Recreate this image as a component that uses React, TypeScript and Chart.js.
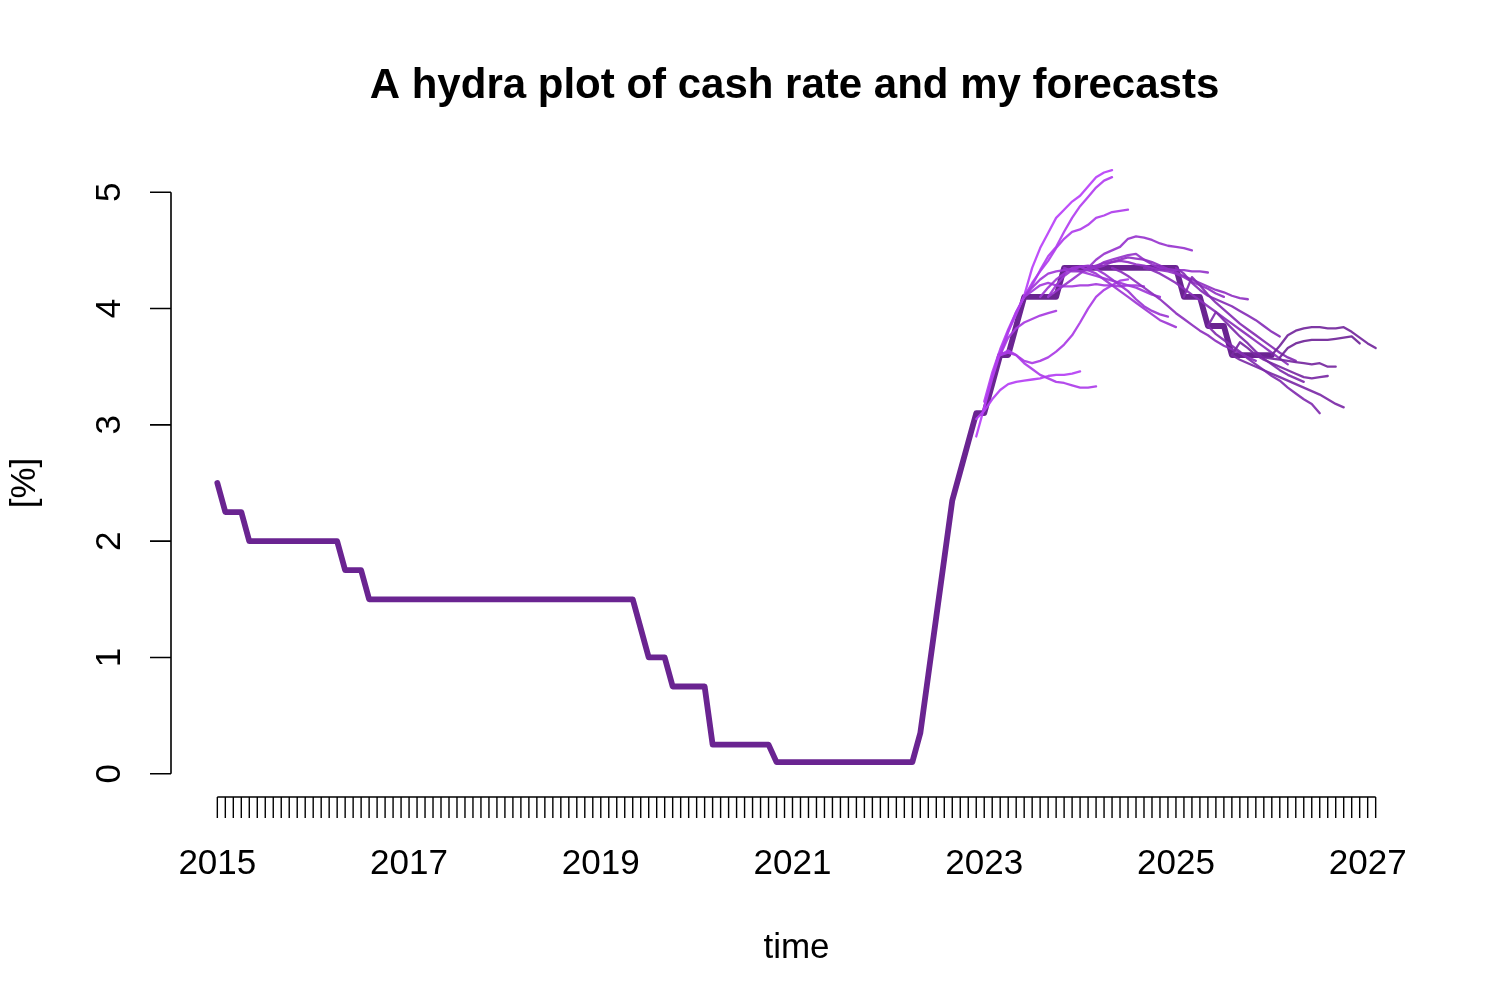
import React, { useEffect, useRef } from "react";
import { Chart, registerables } from "chart.js";

Chart.register(...registerables);

// ---------------- data ----------------
const chartTitle = "A hydra plot of cash rate and my forecasts";
const xAxisTitle = "time";
const yAxisTitle = "[%]";

const xTickYears = [2015, 2017, 2019, 2021, 2023, 2025, 2027];
const yTickValues = [0, 1, 2, 3, 4, 5];
const minorTickFirst = "2015-01";
const minorTickLast = "2027-02";

// monthly cash rate from Jan 2015
const cashRateStart = "2015-01";
const cashRate = [
  2.5, 2.25, 2.25, 2.25, 2.0, 2.0, 2.0, 2.0, 2.0, 2.0, 2.0, 2.0,
  2.0, 2.0, 2.0, 2.0, 1.75, 1.75, 1.75, 1.5, 1.5, 1.5, 1.5, 1.5,
  1.5, 1.5, 1.5, 1.5, 1.5, 1.5, 1.5, 1.5, 1.5, 1.5, 1.5, 1.5,
  1.5, 1.5, 1.5, 1.5, 1.5, 1.5, 1.5, 1.5, 1.5, 1.5, 1.5, 1.5,
  1.5, 1.5, 1.5, 1.5, 1.5, 1.25, 1.0, 1.0, 1.0, 0.75, 0.75, 0.75,
  0.75, 0.75, 0.25, 0.25, 0.25, 0.25, 0.25, 0.25, 0.25, 0.25, 0.1, 0.1,
  0.1, 0.1, 0.1, 0.1, 0.1, 0.1, 0.1, 0.1, 0.1, 0.1, 0.1, 0.1,
  0.1, 0.1, 0.1, 0.1, 0.35, 0.85, 1.35, 1.85, 2.35, 2.6, 2.85, 3.1,
  3.1, 3.35, 3.6, 3.6, 3.85, 4.1, 4.1, 4.1, 4.1, 4.1, 4.35, 4.35,
  4.35, 4.35, 4.35, 4.35, 4.35, 4.35, 4.35, 4.35, 4.35, 4.35, 4.35, 4.35,
  4.35, 4.1, 4.1, 4.1, 3.85, 3.85, 3.85, 3.6, 3.6, 3.6, 3.6, 3.6,
  3.6,
];

// forecasts: start month and monthly path
const fc01Start = "2022-12";
const fc01 = [2.9, 3.15, 3.4, 3.62, 3.8, 3.95, 4.11, 4.35, 4.52, 4.65, 4.78, 4.85, 4.92, 4.97, 5.05, 5.13, 5.17, 5.19];
const fc02Start = "2022-12";
const fc02 = [3.05, 3.12, 3.22, 3.3, 3.35, 3.37, 3.38, 3.39, 3.4, 3.42, 3.43, 3.43, 3.44, 3.46];
const fc03Start = "2023-01";
const fc03 = [3.2, 3.45, 3.65, 3.82, 3.97, 4.1, 4.2, 4.33, 4.45, 4.53, 4.66, 4.78, 4.88, 4.96, 5.04, 5.1, 5.13];
const fc04Start = "2023-03";
const fc04 = [3.6, 3.8, 3.97, 4.1, 4.22, 4.32, 4.41, 4.52, 4.6, 4.66, 4.68, 4.72, 4.78, 4.8, 4.83, 4.84, 4.85];
const fc05Start = "2023-03";
const fc05 = [3.6, 3.64, 3.6, 3.53, 3.48, 3.43, 3.4, 3.37, 3.36, 3.34, 3.32, 3.32, 3.33];
const fc06Start = "2023-03";
const fc06 = [3.6, 3.62, 3.6, 3.55, 3.53, 3.55, 3.58, 3.63, 3.69, 3.77, 3.88, 4.0, 4.1, 4.16, 4.2, 4.24, 4.25];
const fc07Start = "2023-03";
const fc07 = [3.6, 3.75, 3.83, 3.88, 3.91, 3.94, 3.96, 3.98];
const fc08Start = "2023-06";
const fc08 = [4.1, 4.15, 4.2, 4.22, 4.2, 4.19, 4.19, 4.2, 4.2, 4.21, 4.2, 4.2, 4.19, 4.2, 4.2, 4.19];
const fc09Start = "2023-06";
const fc09 = [4.1, 4.18, 4.25, 4.3, 4.32, 4.33, 4.34, 4.32, 4.3, 4.28, 4.26, 4.24, 4.22, 4.2, 4.18, 4.15, 4.12, 4.1];
const fc10Start = "2023-08";
const fc10 = [4.1, 4.18, 4.25, 4.3, 4.35, 4.36, 4.33, 4.3, 4.25, 4.2, 4.15, 4.1, 4.05, 4.0, 3.95, 3.9, 3.87, 3.84];
const fc11Start = "2023-09";
const fc11 = [4.1, 4.2, 4.28, 4.33, 4.36, 4.37, 4.34, 4.3, 4.25, 4.2, 4.15, 4.08, 4.02, 3.98, 3.95, 3.93];
const fc12Start = "2023-09";
const fc12 = [4.1, 4.15, 4.2, 4.25, 4.3, 4.35, 4.42, 4.47, 4.5, 4.53, 4.6, 4.62, 4.61, 4.59, 4.56, 4.54, 4.53, 4.52, 4.5];
const fc13Start = "2023-11";
const fc13 = [4.35, 4.32, 4.32, 4.33, 4.36, 4.4, 4.42, 4.44, 4.46, 4.47, 4.42, 4.38, 4.35, 4.34, 4.33, 4.33, 4.32, 4.32, 4.31];
const fc14Start = "2024-02";
const fc14 = [4.35, 4.37, 4.39, 4.4, 4.41, 4.4, 4.38, 4.37, 4.35, 4.33, 4.32, 4.3, 4.27, 4.23, 4.2, 4.17, 4.13, 4.1];
const fc15Start = "2024-03";
const fc15 = [4.35, 4.37, 4.4, 4.42, 4.44, 4.43, 4.42, 4.4, 4.37, 4.34, 4.31, 4.28, 4.25, 4.22, 4.19, 4.16, 4.14, 4.11, 4.09, 4.08];
const fc16Start = "2024-05";
const fc16 = [4.35, 4.32, 4.28, 4.23, 4.18, 4.13, 4.08, 4.02, 3.96, 3.91, 3.86, 3.81, 3.77, 3.72, 3.68, 3.65, 3.62, 3.58, 3.55];
const fc17Start = "2024-09";
const fc17 = [4.35, 4.33, 4.3, 4.26, 4.22, 4.17, 4.12, 4.07, 4.02, 3.97, 3.92, 3.87, 3.82, 3.77, 3.72, 3.67, 3.62, 3.57, 3.52];
const fc18Start = "2025-01";
const fc18 = [4.35, 4.3, 4.22, 4.16, 4.11, 4.08, 4.05, 4.02, 3.98, 3.94, 3.9, 3.85, 3.8, 3.76];
const fc19Start = "2025-02";
const fc19 = [4.1, 4.27, 4.2, 4.12, 4.05, 3.99, 3.93, 3.87, 3.82, 3.77, 3.72, 3.67, 3.62, 3.58, 3.55];
const fc20Start = "2025-05";
const fc20 = [3.85, 3.78, 3.73, 3.68, 3.63, 3.57, 3.52, 3.47, 3.42, 3.38, 3.32, 3.27, 3.22, 3.18, 3.1];
const fc21Start = "2025-05";
const fc21 = [3.85, 3.97, 3.9, 3.83, 3.76, 3.7, 3.63, 3.57, 3.52, 3.47, 3.43, 3.4, 3.37];
const fc22Start = "2025-08";
const fc22 = [3.6, 3.56, 3.53, 3.5, 3.47, 3.44, 3.41, 3.38, 3.35, 3.32, 3.29, 3.26, 3.22, 3.18, 3.15];
const fc23Start = "2025-08";
const fc23 = [3.6, 3.71, 3.66, 3.6, 3.56, 3.53, 3.5, 3.47, 3.44, 3.41, 3.4, 3.41, 3.42];
const fc24Start = "2025-11";
const fc24 = [3.6, 3.58, 3.57, 3.56, 3.55, 3.54, 3.53, 3.52, 3.53, 3.5, 3.5];
const fc25Start = "2026-01";
const fc25 = [3.6, 3.68, 3.77, 3.81, 3.83, 3.84, 3.84, 3.83, 3.83, 3.84, 3.8, 3.75, 3.7, 3.66];
const fc26Start = "2026-02";
const fc26 = [3.58, 3.66, 3.7, 3.72, 3.73, 3.73, 3.73, 3.74, 3.75, 3.76, 3.7];

const forecastStarts = [
  fc01Start, fc02Start, fc03Start, fc04Start, fc05Start, fc06Start, fc07Start, fc08Start, fc09Start,
  fc10Start, fc11Start, fc12Start, fc13Start, fc14Start, fc15Start, fc16Start, fc17Start, fc18Start,
  fc19Start, fc20Start, fc21Start, fc22Start, fc23Start, fc24Start, fc25Start, fc26Start,
];
const forecastPaths = [
  fc01, fc02, fc03, fc04, fc05, fc06, fc07, fc08, fc09, fc10, fc11, fc12, fc13,
  fc14, fc15, fc16, fc17, fc18, fc19, fc20, fc21, fc22, fc23, fc24, fc25, fc26,
];

// ---------------- helpers ----------------
const monthToDecimal = (s: string) => {
  const [y, m] = s.split("-").map(Number);
  return y + (m - 1) / 12;
};
const toPoints = (start: string, values: number[]) => {
  const t0 = monthToDecimal(start);
  return values.map((v, i) => ({ x: t0 + i / 12, y: v }));
};

const FONT = "'Liberation Sans', Arial, Helvetica, sans-serif";

const rAxesPlugin = {
  id: "rAxes",
  afterDraw(chart: any) {
    const ctx = chart.ctx;
    const xs = chart.scales.x;
    const ys = chart.scales.y;
    const area = chart.chartArea;
    ctx.save();
    ctx.strokeStyle = "#000";
    ctx.fillStyle = "#000";
    ctx.lineWidth = 1.6;
    ctx.lineCap = "butt";
    const tick = 21;

    // y axis
    const yTop = ys.getPixelForValue(yTickValues[yTickValues.length - 1]);
    const yBot = ys.getPixelForValue(yTickValues[0]);
    ctx.beginPath();
    ctx.moveTo(area.left, yTop);
    ctx.lineTo(area.left, yBot);
    yTickValues.forEach((v) => {
      const p = ys.getPixelForValue(v);
      ctx.moveTo(area.left, p);
      ctx.lineTo(area.left - tick, p);
    });
    ctx.stroke();
    ctx.font = `35px ${FONT}`;
    ctx.textAlign = "center";
    ctx.textBaseline = "alphabetic";
    yTickValues.forEach((v) => {
      const p = ys.getPixelForValue(v);
      ctx.save();
      ctx.translate(area.left - 51.5, p);
      ctx.rotate(-Math.PI / 2);
      ctx.fillText(String(v), 0, 0);
      ctx.restore();
    });

    // x axis with monthly ticks
    const t0 = monthToDecimal(minorTickFirst);
    const t1 = monthToDecimal(minorTickLast);
    const nTicks = Math.round((t1 - t0) * 12);
    const xl = xs.getPixelForValue(t0);
    const xr = xs.getPixelForValue(t1);
    ctx.beginPath();
    ctx.moveTo(xl, area.bottom);
    ctx.lineTo(xr, area.bottom);
    for (let i = 0; i <= nTicks; i++) {
      const p = xs.getPixelForValue(t0 + i / 12);
      ctx.moveTo(p, area.bottom);
      ctx.lineTo(p, area.bottom + tick);
    }
    ctx.lineWidth = 1.4;
    ctx.stroke();
    xTickYears.forEach((yr) => {
      ctx.fillText(String(yr), xs.getPixelForValue(yr), area.bottom + 77);
    });

    const cx = (area.left + area.right) / 2;
    const cy = (area.top + area.bottom) / 2;
    // x title
    ctx.fillText(xAxisTitle, cx, area.bottom + 161);
    // y title
    ctx.save();
    ctx.translate(area.left - 136, cy);
    ctx.rotate(-Math.PI / 2);
    ctx.fillText(yAxisTitle, 0, 0);
    ctx.restore();
    // main title
    ctx.font = `bold 42px ${FONT}`;
    ctx.fillText(chartTitle, cx - 2, 90);
    ctx.restore();
  },
};

export default function App() {
  const ref = useRef<HTMLCanvasElement | null>(null);
  useEffect(() => {
    if (!ref.current) return;
    const n = forecastPaths.length;
    const c0 = [184, 64, 248];
    const c1 = [112, 38, 152];
    const fcSets = forecastPaths.map((vals, i) => {
      const t = n > 1 ? i / (n - 1) : 0;
      const c = c0.map((a, k) => Math.round(a + (c1[k] - a) * t));
      return {
        label: `forecast ${forecastStarts[i]}`,
        data: toPoints(forecastStarts[i], vals),
        borderColor: `rgba(${c[0]},${c[1]},${c[2]},0.92)`,
        borderWidth: 2.3,
        pointRadius: 0,
        tension: 0,
        borderJoinStyle: "round" as const,
        borderCapStyle: "round" as const,
        order: n - i,
        clip: 0,
      };
    });
    const chart = new Chart(ref.current, {
      type: "line",
      data: {
        datasets: [
          ...fcSets,
          {
            label: "cash rate",
            data: toPoints(cashRateStart, cashRate),
            borderColor: "rgb(106,36,145)",
            borderWidth: 5.8,
            pointRadius: 0,
            tension: 0,
            borderJoinStyle: "round" as const,
            borderCapStyle: "round" as const,
            order: 100,
            clip: 0,
          },
        ],
      },
      options: {
        animation: false,
        responsive: false,
        devicePixelRatio: 1,
        layout: { padding: { left: 163, right: 78, top: 161, bottom: 201 } },
        scales: {
          x: { type: "linear", min: 2014.5167, max: 2027.5667, display: false },
          y: { type: "linear", min: -0.2, max: 5.2, display: false },
        },
        plugins: {
          legend: { display: false },
          tooltip: { enabled: false },
          title: { display: false },
        },
        elements: { point: { radius: 0 } },
      },
      plugins: [rAxesPlugin],
    } as any);
    return () => chart.destroy();
  }, []);
  return (
    <div style={{ background: "#fff" }}>
      <canvas ref={ref} width={1492} height={990} style={{ display: "block" }} />
    </div>
  );
}
